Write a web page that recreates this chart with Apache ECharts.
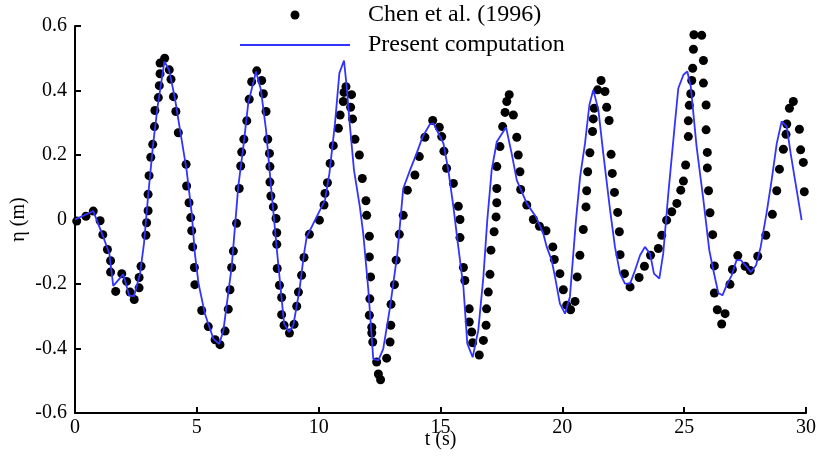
<!DOCTYPE html>
<html>
<head>
<meta charset="utf-8">
<script src="https://cdn.jsdelivr.net/npm/echarts@6/dist/echarts.min.js"></script>
<style>
  html, body { margin: 0; padding: 0; background: #fff; }
  #chart { width: 817px; height: 459px; }
</style>
</head>
<body>
<div id="chart"></div>
<script>
// Free-surface elevation η (m) against time t (s)
const seriesNames = ['Chen et al. (1996)', 'Present computation'];

// Measured elevation, [t, η]
const chenData = [
  [0.07,-0.005],[0.45,0.01],[0.75,0.026],[1.03,-0.004],[1.14,-0.047],[1.33,-0.093],[1.46,-0.128],[1.46,-0.163],
  [1.67,-0.223],[1.92,-0.168],[2.12,-0.192],[2.26,-0.225],[2.43,-0.248],[2.63,-0.212],[2.63,-0.18],[2.71,-0.145],
  [2.91,-0.049],[2.94,-0.01],[3.0,0.027],[3.0,0.078],[3.04,0.136],[3.11,0.193],[3.19,0.233],[3.26,0.288],
  [3.28,0.338],[3.42,0.378],[3.46,0.415],[3.49,0.452],[3.49,0.485],[3.68,0.5],[3.87,0.464],[3.94,0.435],
  [4.04,0.381],[4.14,0.335],[4.24,0.269],[4.56,0.171],[4.58,0.104],[4.68,0.052],[4.75,0.006],[4.79,-0.035],
  [4.83,-0.085],[4.9,-0.149],[4.92,-0.202],
  [5.2,-0.282],[5.47,-0.332],[5.75,-0.373],[5.95,-0.388],[6.16,-0.346],[6.29,-0.278],[6.36,-0.218],[6.43,-0.149],
  [6.5,-0.098],[6.63,-0.012],[6.74,0.096],[6.8,0.166],[6.84,0.209],[6.93,0.249],[7.05,0.306],[7.15,0.373],
  [7.25,0.427],[7.46,0.461],[7.66,0.431],[7.73,0.39],[7.84,0.335],[7.91,0.249],[7.98,0.205],[8.0,0.164],
  [8.0,0.116],[8.04,0.073],[8.14,0.039],[8.25,0.003],[8.28,-0.041],[8.28,-0.077],[8.3,-0.152],[8.39,-0.204],
  [8.48,-0.242],[8.48,-0.295],[8.58,-0.328],[8.8,-0.352],[8.99,-0.325],[9.1,-0.269],[9.17,-0.225],[9.3,-0.173],
  [9.4,-0.118],[9.62,-0.046],
  [10.03,-0.002],[10.22,0.045],[10.26,0.081],[10.36,0.114],[10.47,0.174],[10.6,0.229],[10.81,0.283],[10.88,0.324],
  [11.01,0.366],[11.04,0.394],[11.12,0.412],[11.35,0.387],[11.31,0.348],[11.39,0.312],[11.49,0.249],[11.67,0.2],
  [11.79,0.127],[11.94,0.058],[11.97,0.013],[12.08,-0.052],[12.08,-0.116],[12.13,-0.178],[12.1,-0.246],[12.08,-0.297],
  [12.18,-0.334],[12.18,-0.352],[12.22,-0.38],[12.38,-0.442],[12.45,-0.479],[12.54,-0.497],[12.79,-0.43],[12.93,-0.38],
  [12.96,-0.328],[12.97,-0.263],[13.11,-0.202],[13.18,-0.126],[13.31,-0.046],[13.47,0.013],[13.64,0.091],[13.95,0.138],
  [14.13,0.195],[14.36,0.255],[14.68,0.307],
  [14.95,0.286],[15.05,0.257],[15.14,0.212],[15.25,0.159],[15.53,0.112],[15.73,0.041],[15.8,0.0],[15.8,-0.056],
  [15.94,-0.149],[16.0,-0.189],[16.18,-0.277],[16.18,-0.318],[16.28,-0.349],[16.32,-0.382],[16.59,-0.42],[16.76,-0.375],
  [16.87,-0.328],[16.89,-0.277],[16.96,-0.225],[17.03,-0.17],[17.07,-0.095],[17.2,-0.038],[17.28,0.008],[17.31,0.052],
  [17.31,0.096],[17.31,0.164],[17.44,0.226],[17.55,0.288],[17.65,0.332],[17.72,0.366],[17.82,0.387],[17.99,0.324],
  [18.13,0.255],[18.19,0.2],[18.26,0.148],[18.29,0.093],[18.54,0.045],[18.81,0.0],[19.06,-0.021],[19.33,-0.035],
  [19.61,-0.085],[19.67,-0.124],
  [19.9,-0.168],[20.04,-0.218],[20.18,-0.266],[20.34,-0.28],[20.52,-0.254],[20.61,-0.178],[20.72,-0.111],[20.86,-0.031],
  [20.97,0.039],[21.0,0.089],[21.04,0.148],[21.13,0.207],[21.24,0.273],[21.27,0.312],[21.31,0.345],[21.45,0.402],
  [21.59,0.431],[21.75,0.397],[21.82,0.348],[21.92,0.307],[22.0,0.202],[22.05,0.143],[22.14,0.084],[22.27,0.022],
  [22.34,-0.038],[22.37,-0.109],[22.55,-0.168],[22.78,-0.209],[23.15,-0.18],[23.37,-0.145],[23.62,-0.111],[23.94,-0.09],
  [24.08,-0.049],[24.28,-0.002],[24.49,0.024],[24.7,0.05],
  [24.86,0.091],[24.97,0.119],[25.06,0.169],[25.17,0.257],[25.17,0.306],[25.21,0.354],[25.27,0.39],[25.31,0.431],
  [25.35,0.469],[25.38,0.528],[25.4,0.573],[25.72,0.571],[25.79,0.493],[25.79,0.423],[25.9,0.355],[25.9,0.278],
  [25.95,0.208],[25.95,0.16],[26.0,0.089],[26.06,0.021],[26.17,-0.047],[26.24,-0.144],[26.24,-0.228],[26.36,-0.28],
  [26.54,-0.324],[26.68,-0.292],[26.88,-0.201],[26.98,-0.155],[27.2,-0.112],[27.5,-0.145],[27.71,-0.158],[28.02,-0.114],
  [28.35,-0.049],[28.62,0.016],[28.8,0.089],[28.91,0.156],[29.07,0.218],[29.18,0.264],[29.21,0.296],[29.32,0.345],
  [29.48,0.366],[29.73,0.28],[29.78,0.216],[29.89,0.177],[29.93,0.086]
];

// Computed elevation, [t, η]
const computedData = [
  [0,0],[0.75,0.026],[1.16,-0.054],[1.41,-0.106],[1.57,-0.206],[1.98,-0.17],[2.22,-0.235],[2.42,-0.238],
  [2.67,-0.168],[2.83,-0.075],[3.01,0.081],[3.21,0.236],[3.39,0.35],[3.67,0.49],[3.86,0.464],[4.1,0.376],
  [4.31,0.278],[4.58,0.153],[4.79,0.019],[4.92,-0.106],[5.07,-0.199],[5.33,-0.292],[5.68,-0.37],[5.92,-0.386],
  [6.09,-0.344],[6.43,-0.147],[6.7,0.102],[6.91,0.226],[7.11,0.361],[7.43,0.459],[7.63,0.402],[7.84,0.278],
  [8.07,0.081],[8.3,-0.106],[8.58,-0.323],[8.78,-0.349],[8.96,-0.328],[9.21,-0.22],[9.4,-0.106],[9.51,-0.054],
  [9.85,-0.002],[10.26,0.06],[10.44,0.143],[10.67,0.298],[10.85,0.454],[11.04,0.493],[11.15,0.412],[11.26,0.309],
  [11.45,0.153],[11.69,0.039],[11.83,-0.044],[12.04,-0.22],[12.24,-0.432],[12.45,-0.437],[12.65,-0.401],[12.93,-0.272],
  [13.23,-0.106],[13.47,0.096],[13.75,0.153],[14.02,0.205],[14.27,0.257],[14.57,0.296],[14.71,0.298],[15.12,0.236],
  [15.32,0.153],[15.53,0.039],[15.73,-0.085],[15.94,-0.209],[16.1,-0.385],[16.32,-0.427],[16.55,-0.344],[16.76,-0.178],
  [16.92,-0.002],[17.1,0.153],[17.31,0.241],[17.69,0.286],[17.92,0.205],[18.13,0.122],[18.54,0.05],[18.92,0.008],
  [19.22,-0.044],[19.36,-0.085],[19.56,-0.126],[19.7,-0.178],[19.9,-0.261],[20.11,-0.292],[20.31,-0.24],[20.56,-0.002],
  [20.73,0.133],[20.93,0.236],[21.11,0.355],[21.27,0.402],[21.34,0.407],[21.48,0.34],[21.68,0.205],[21.96,0.029],
  [22.16,-0.085],[22.37,-0.168],[22.57,-0.199],[22.78,-0.199],[22.98,-0.158],[23.19,-0.111],[23.39,-0.085],[23.6,-0.106],
  [23.76,-0.168],[23.98,-0.183],[24.14,-0.106],[24.35,0.081],[24.62,0.298],[24.76,0.407],[24.97,0.449],[25.13,0.459],
  [25.27,0.413],[25.51,0.226],[25.79,0.06],[26.03,-0.095],[26.2,-0.158],[26.4,-0.228],[26.57,-0.235],[26.74,-0.204],
  [26.95,-0.173],[27.15,-0.126],[27.32,-0.126],[27.57,-0.147],[27.74,-0.163],[27.95,-0.142],[28.14,-0.085],[28.38,0.019],
  [28.59,0.122],[28.8,0.236],[29.0,0.304],[29.21,0.288],[29.37,0.205],[29.55,0.122],[29.82,-0.002]
];

// Axis ranges and labels
const xRange = { min: 0, max: 30, interval: 5 };
const yRange = { min: -0.6, max: 0.6, interval: 0.2 };
const xAxisTitle = 't (s)';
const yAxisTitle = 'η (m)';

const serif = '"Liberation Serif", "Times New Roman", serif';
const lineBlue = '#3333ff';

const chart = echarts.init(document.getElementById('chart'), null, { renderer: 'canvas' });

const axisCommon = {
  axisLine: { onZero: false, lineStyle: { color: '#000', width: 2 } },
  axisTick: { inside: true, length: 6, lineStyle: { color: '#000', width: 2 } },
  splitLine: { show: false },
  axisLabel: { color: '#000', fontFamily: serif, fontSize: 20 },
  nameTextStyle: { color: '#000', fontFamily: serif, fontSize: 20 },
  nameMoveOverlap: false
};

const legendText = { color: '#000', fontFamily: serif, fontSize: 24, lineHeight: 24 };

chart.setOption({
  animation: false,
  backgroundColor: '#fff',
  grid: { left: 75, right: 11, top: 26, bottom: 46, outerBoundsMode: 'none', containLabel: false },
  legend: [
    {
      // dot entry: icon centred over the line entry below
      data: [{ name: seriesNames[0], icon: 'circle' }],
      left: 290.5, top: 3, padding: 0,
      itemWidth: 9, itemHeight: 9,
      selectedMode: false,
      textStyle: Object.assign({}, legendText, { padding: [0, 0, 0, 63.5] })
    },
    {
      data: [{ name: seriesNames[1], icon: 'rect' }],
      left: 240, top: 33, padding: 0,
      itemWidth: 110, itemHeight: 2,
      selectedMode: false,
      textStyle: Object.assign({}, legendText, { padding: [0, 0, 0, 13] })
    }
  ],
  xAxis: Object.assign({}, axisCommon, {
    type: 'value',
    min: xRange.min, max: xRange.max, interval: xRange.interval,
    name: xAxisTitle, nameLocation: 'middle', nameGap: 17,
    axisLabel: Object.assign({}, axisCommon.axisLabel, { margin: 5 })
  }),
  yAxis: Object.assign({}, axisCommon, {
    type: 'value',
    min: yRange.min, max: yRange.max, interval: yRange.interval,
    name: yAxisTitle, nameLocation: 'middle', nameGap: 46, nameRotate: 90,
    axisLabel: Object.assign({}, axisCommon.axisLabel, { margin: 8 })
  }),
  series: [
    {
      name: seriesNames[0],
      type: 'scatter',
      data: chenData,
      symbol: 'circle',
      symbolSize: 9,
      itemStyle: { color: '#000', opacity: 1 },
      z: 2
    },
    {
      name: seriesNames[1],
      type: 'line',
      data: computedData,
      showSymbol: false,
      symbol: 'none',
      lineStyle: { color: lineBlue, width: 1.8 },
      itemStyle: { color: lineBlue },
      z: 3
    }
  ]
});
</script>
</body>
</html>
